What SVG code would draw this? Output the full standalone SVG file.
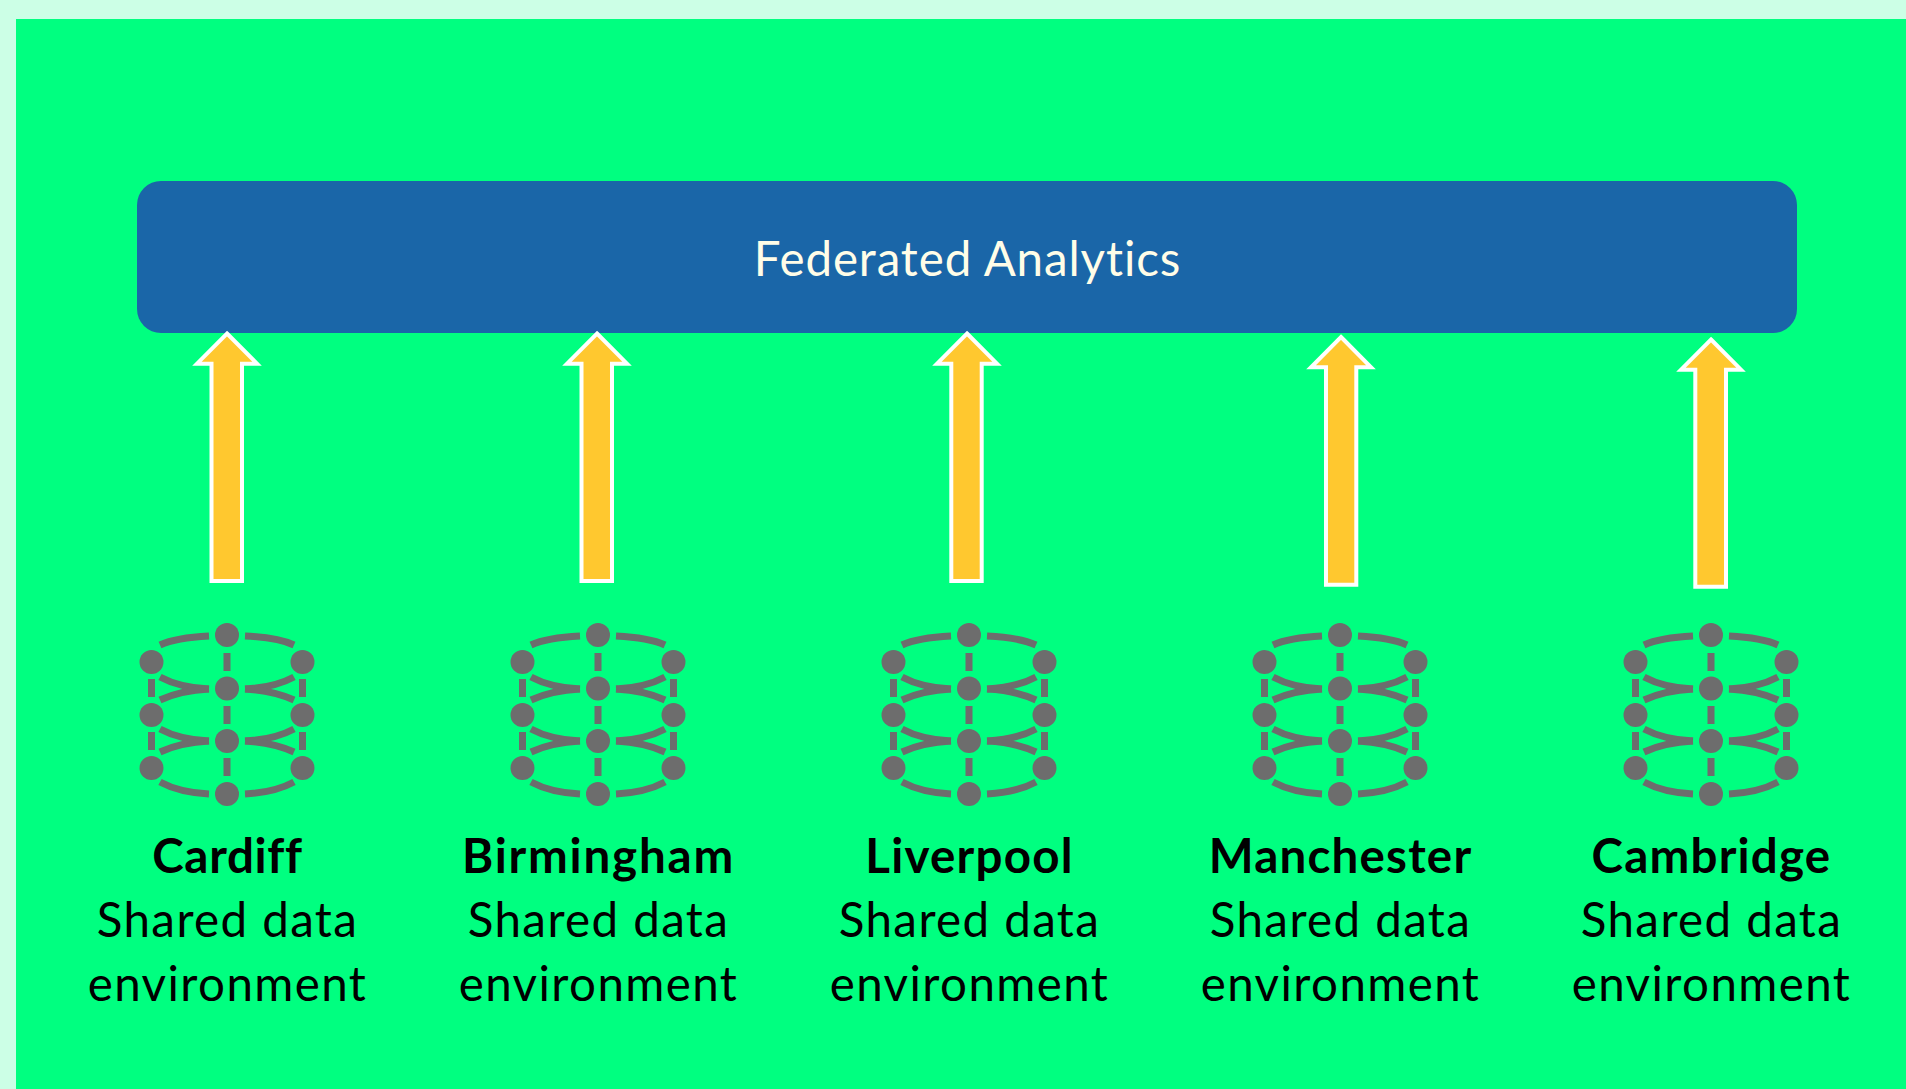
<svg xmlns="http://www.w3.org/2000/svg" width="1906" height="1089" viewBox="0 0 1906 1089">
<style>
text{font-family:"Lato","Open Sans",sans-serif;text-anchor:middle;fill:#000;font-size:47.500px;font-variant-ligatures:none;letter-spacing:1.400px}
.b{font-weight:700;letter-spacing:1.200px}
.t{fill:#fffde8;letter-spacing:0.900px}
.a{fill:#ffc82f;stroke:#fff;stroke-width:4}
.l{fill:none;stroke:#6d6d6d;stroke-width:7}
.d{fill:#6d6d6d}
</style>
<defs>
<g id="icon">
<g class="l">
<path d="M-67 36C-54 30-38 28-18 27M18 27C38 28 54 30 67 36"/>
<path d="M-67 68C-54 75-38 79-18 80M18 80C38 79 54 75 67 68"/>
<path d="M-67 91C-54 85-38 81-18 80M18 80C38 81 54 85 67 91"/>
<path d="M-67 120C-54 127-38 131-18 132M18 132C38 131 54 127 67 120"/>
<path d="M-67 143C-54 137-38 133-18 132M18 132C38 133 54 137 67 143"/>
<path d="M-67 173C-54 180-38 184-18 185M18 185C38 184 54 180 67 173"/>
<path d="M0 44V62M0 97V115M0 149V167M-75.500 70V88M75.500 70V88M-75.500 123V141M75.500 123V141"/>
</g>
<g class="d">
<circle cx="0" cy="26" r="12"/><circle cx="0" cy="79.500" r="12"/><circle cx="0" cy="132" r="12"/><circle cx="0" cy="185" r="12"/>
<circle cx="-75.500" cy="53" r="12"/><circle cx="-75.500" cy="106" r="12"/><circle cx="-75.500" cy="159" r="12"/>
<circle cx="75.500" cy="53" r="12"/><circle cx="75.500" cy="106" r="12"/><circle cx="75.500" cy="159" r="12"/>
</g>
</g>
</defs>
<rect width="1906" height="1089" fill="#ccffe6"/>
<rect x="16" y="19" width="1890" height="1070" fill="#00ff80"/>
<g id="federated-analytics">
<rect x="137" y="181" width="1660" height="152" rx="24" fill="#1a66a8"/>
<text class="t" x="967.500" y="275.500">Federated Analytics</text>
</g>
<g id="connectors">
<path class="a" d="M227 333.500L257 363.700H242V581H211.500V363.700H197Z"/>
<path class="a" d="M597 333.500L627 363.700H612V581H581.500V363.700H567Z"/>
<path class="a" d="M967 333.500L997 363.700H981.700V581H951.300V363.700H937Z"/>
<path class="a" d="M1341 337L1371 367.300H1356.300V584.700H1326V367.300H1311Z"/>
<path class="a" d="M1711 339.500L1741 369.700H1726V586.700H1695.300V369.700H1681Z"/>
</g>
<g id="cardiff"><use href="#icon" x="227" y="609"/><text class="b" style="letter-spacing:.7px" x="227.500" y="873">Cardiff</text><text x="227.500" y="937">Shared data</text><text x="227.500" y="1001">environment</text></g>
<g id="birmingham"><use href="#icon" x="598" y="609"/><text class="b" style="letter-spacing:1.800px" x="598.500" y="873">Birmingham</text><text x="598.500" y="937">Shared data</text><text x="598.500" y="1001">environment</text></g>
<g id="liverpool"><use href="#icon" x="969" y="609"/><text class="b" x="969.500" y="873">Liverpool</text><text x="969.500" y="937">Shared data</text><text x="969.500" y="1001">environment</text></g>
<g id="manchester"><use href="#icon" x="1340" y="609"/><text class="b" x="1340.500" y="873">Manchester</text><text x="1340.500" y="937">Shared data</text><text x="1340.500" y="1001">environment</text></g>
<g id="cambridge"><use href="#icon" x="1711" y="609"/><text class="b" x="1711.500" y="873">Cambridge</text><text x="1711.500" y="937">Shared data</text><text x="1711.500" y="1001">environment</text></g>
</svg>
